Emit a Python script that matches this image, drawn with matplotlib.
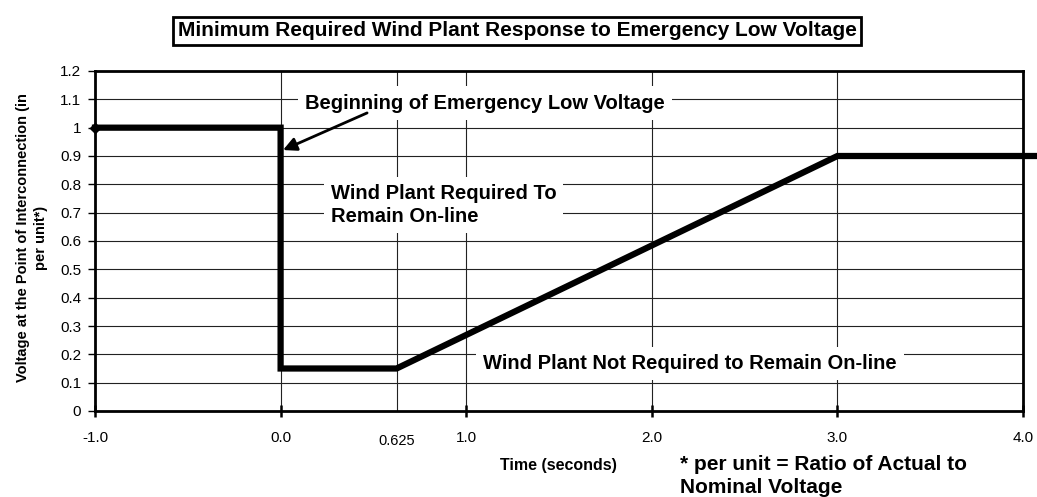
import matplotlib
matplotlib.use("Agg")
import matplotlib.pyplot as plt

plt.rcParams['font.family'] = ['Liberation Sans', 'DejaVu Sans']

# required ride-through curve
time_s = [-1.0, 0.0, 0.0, 0.625, 3.0, 4.08]
volt_pu = [1.0, 1.0, 0.15, 0.15, 0.9, 0.9]

x_ticks = [-1.0, 0.0, 1.0, 2.0, 3.0, 4.0]
x_labels = ['-1.0', '0.0', '1.0', '2.0', '3.0', '4.0']
y_ticks = [0, 0.1, 0.2, 0.3, 0.4, 0.5, 0.6, 0.7, 0.8, 0.9, 1.0, 1.1, 1.2]
y_labels = ['0', '0.1', '0.2', '0.3', '0.4', '0.5', '0.6', '0.7', '0.8', '0.9', '1', '1.1', '1.2']
v_grid = [0.0, 0.625, 1.0, 2.0, 3.0]

fig = plt.figure(figsize=(10.37, 4.97), dpi=100)
ax = fig.add_axes([95/1037, 1 - 411/497, (1023 - 95)/1037, (411 - 71)/497])

ax.set_xlim(-1.0, 4.0)
ax.set_ylim(0, 1.2)

for y in y_ticks[1:-1]:
    ax.axhline(y, color='#222222', lw=0.8, zorder=1)
for x in v_grid:
    ax.axvline(x, color='#222222', lw=0.8, zorder=1)

ax.plot(time_s, volt_pu, color='black', lw=4.5, solid_joinstyle='miter',
        clip_on=False, zorder=4)
ax.plot([time_s[0]], [volt_pu[0]], marker='D', ms=5, color='black',
        clip_on=False, zorder=5)

ax.set_xticks(x_ticks)
ax.set_xticklabels(x_labels, fontsize=11)
ax.set_yticks(y_ticks)
ax.set_yticklabels(y_labels, fontsize=11)
ax.tick_params(axis='x', direction='inout', length=9, width=1.8, pad=10)
ax.tick_params(axis='y', direction='out', length=5, width=1.0, pad=5)
ax.text(0.625, -0.106, '0.625', ha='center', va='center', fontsize=10.5)

for s in ax.spines.values():
    s.set_linewidth(2.0)

ax.set_ylabel('Voltage at the Point of Interconnection (in\nper unit*)',
              fontsize=10.5, fontweight='bold', linespacing=1.4, va='center')
ax.yaxis.set_label_coords(-0.068, 0.51)
ax.set_xlabel('Time (seconds)', fontsize=11.5, fontweight='bold')
ax.xaxis.set_label_coords((558 - 95)/(1023 - 95), -0.159)
ax.xaxis.label.set_va('center')

fig.text(517/1037, 1 - 31/497, 'Minimum Required Wind Plant Response to Emergency Low Voltage',
         ha='center', va='center', fontsize=15, fontweight='bold',
         bbox=dict(boxstyle='square,pad=0.2', fc='white', ec='black', lw=2.0))

box = dict(boxstyle='square,pad=0.35', fc='white', ec='none')
ax.text(0.131, 1.087, 'Beginning of Emergency Low Voltage', fontsize=14.5,
        fontweight='bold', ha='left', va='center', bbox=box, zorder=6)
ax.annotate('', xy=(0.013, 0.921), xytext=(0.466, 1.052),
            arrowprops=dict(arrowstyle='-|>', color='black', lw=2.0, mutation_scale=20,
                            shrinkA=0, shrinkB=0),
            zorder=7)
ax.text(0.27, 0.726, 'Wind Plant Required To\nRemain On-line', fontsize=14.5,
        fontweight='bold', ha='left', va='center', linespacing=1.25, bbox=box, zorder=6)
ax.text(1.09, 0.169, 'Wind Plant Not Required to Remain On-line', fontsize=14.5,
        fontweight='bold', ha='left', va='center', bbox=box, zorder=6)

fig.text(680/1037, 1 - 476/497, '* per unit = Ratio of Actual to\nNominal Voltage',
         ha='left', va='center', fontsize=15, fontweight='bold', linespacing=1.3)

fig.savefig('out.png', dpi=100)
